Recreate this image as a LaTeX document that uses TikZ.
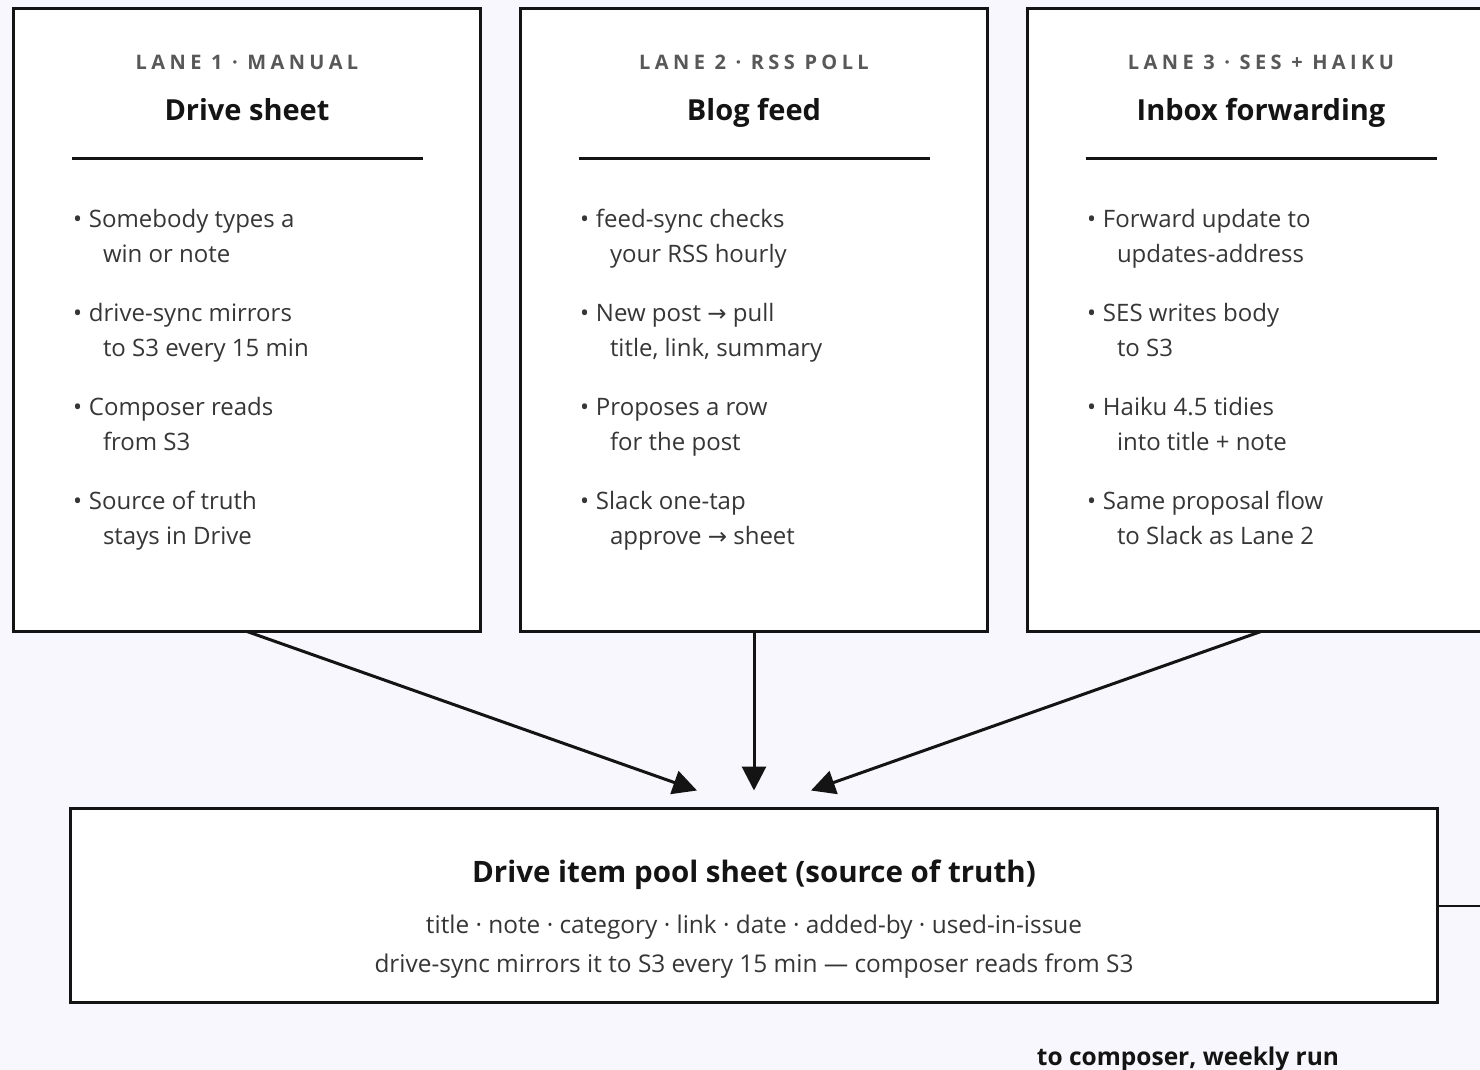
\documentclass[tikz,border=0pt]{standalone}
\usepackage{fontspec}
\setmainfont{Open Sans}
\newfontfamily\tagfont[LetterSpace=22.0]{Open Sans}
\newfontfamily\arrowfont{DejaVu Sans}
\usetikzlibrary{arrows.meta, positioning, calc}
\definecolor{PageTint}{HTML}{F8F7FD}
\definecolor{InkDark}{HTML}{141414}
\definecolor{InkBody}{HTML}{363636}
\definecolor{InkTag}{HTML}{585858}
\newcommand{\lanept}[2]{\makebox[8pt][l]{\textbullet}#1\\\hspace*{15pt}#2}
\newcommand{\toarrow}{{\arrowfont\fontsize{11.5}{12}\selectfont →}}

\begin{document}
\begin{tikzpicture}[x=0.5pt, y=-0.5pt,
    every node/.style={outer sep=0pt, inner sep=0pt},
    lanebox/.style={draw=InkDark, line width=1.5pt, fill=white, minimum width=233.5pt, minimum height=311.5pt},
    lanetag/.style={anchor=base, font=\tagfont\bfseries\fontsize{10}{12}\selectfont, text=InkTag},
    lanetitle/.style={anchor=base, font=\bfseries\fontsize{14.5}{17}\selectfont, text=InkDark},
    lanepts/.style={anchor=north west, align=left, font=\fontsize{12}{17.5}\selectfont, text=InkBody},
    laneline/.style={draw=InkDark, line width=1.5pt},
    poolnote/.style={anchor=base, font=\fontsize{12.2}{14}\selectfont, text=InkBody},
    flow/.style={draw=InkDark, line width=1.5pt, -{Triangle[length=12pt, width=12pt]}}]
    \useasboundingbox (0,0) rectangle (1480,1070);
    \fill[PageTint] (0,0) rectangle (1480,1070);
    \clip (0,0) rectangle (1480,1070);

    % Lanes
    \node[lanebox] (lane1) at (247,320) {};
    \node[lanebox, right=20pt of lane1] (lane2) {};
    \node[lanebox, right=20pt of lane2] (lane3) {};

    \node[lanetag] (tag1) at ($(lane1.north)+(0,61.5)$) {LANE 1 · MANUAL};
    \node[lanetitle] (title1) at ($(lane1.north)+(0,112.5)$) {Drive sheet};
    \node[lanepts] (pts1) at ($(lane1.north west)+(59.5,201)$) {%
        \lanept{Somebody types a}{win or note}\\[12pt]
        \lanept{drive-sync mirrors}{to S3 every 15 min}\\[12pt]
        \lanept{Composer reads}{from S3}\\[12pt]
        \lanept{Source of truth}{stays in Drive}};

    \node[lanetag] (tag2) at ($(lane2.north)+(0,61.5)$) {LANE 2 · RSS POLL};
    \node[lanetitle] (title2) at ($(lane2.north)+(0,112.5)$) {Blog feed};
    \node[lanepts] (pts2) at ($(lane2.north west)+(59.5,201)$) {%
        \lanept{feed-sync checks}{your RSS hourly}\\[12pt]
        \lanept{New post \toarrow{} pull}{title, link, summary}\\[12pt]
        \lanept{Proposes a row}{for the post}\\[12pt]
        \lanept{Slack one-tap}{approve \toarrow{} sheet}};

    \node[lanetag] (tag3) at ($(lane3.north)+(0,61.5)$) {LANE 3 · SES + HAIKU};
    \node[lanetitle] (title3) at ($(lane3.north)+(0,112.5)$) {Inbox forwarding};
    \node[lanepts] (pts3) at ($(lane3.north west)+(59.5,201)$) {%
        \lanept{Forward update to}{updates-address}\\[12pt]
        \lanept{SES writes body}{to S3}\\[12pt]
        \lanept{Haiku 4.5 tidies}{into title + note}\\[12pt]
        \lanept{Same proposal flow}{to Slack as Lane 2}};

    \foreach \n in {1,2,3}
        \draw[laneline] ($(lane\n.north)+(-175.5,150.5)$) -- ++(351,0);

    % Pool sheet
    \node[lanebox, minimum width=683.5pt, minimum height=97pt, below=88.5pt of lane2] (pool) {};
    \node[lanetitle, font=\bfseries\fontsize{14.75}{17}\selectfont] (poolhead) at ($(pool.north)+(0,73.5)$) {Drive item pool sheet (source of truth)};
    \node[poolnote] (poolcols) at ($(pool.north)+(0,124.5)$) {title · note · category · link · date · added-by · used-in-issue};
    \node[poolnote] (poolsync) at ($(pool.north)+(0,163.5)$) {drive-sync mirrors it to S3 every 15 min — composer reads from S3};

    % Arrows
    \coordinate (in1) at ($(pool.north)+(-57,-18)$);
    \coordinate (in2) at ($(pool.north)+(0,-18)$);
    \coordinate (in3) at ($(pool.north)+(57,-18)$);
    \draw[flow] (lane1.south) -- (in1);
    \draw[flow] (lane2.south) -- (in2);
    \draw[flow] (lane3.south) -- (in3);

    \coordinate (exit) at ($(pool.east)+(60,0)$);
    \draw[draw=InkDark, line width=1pt] (pool.east) -- (exit);
    \node[anchor=base, font=\bfseries\fontsize{12.25}{14}\selectfont, text=InkDark] (outlbl) at (1188,1065) {to composer, weekly run};
\end{tikzpicture}
\end{document}
